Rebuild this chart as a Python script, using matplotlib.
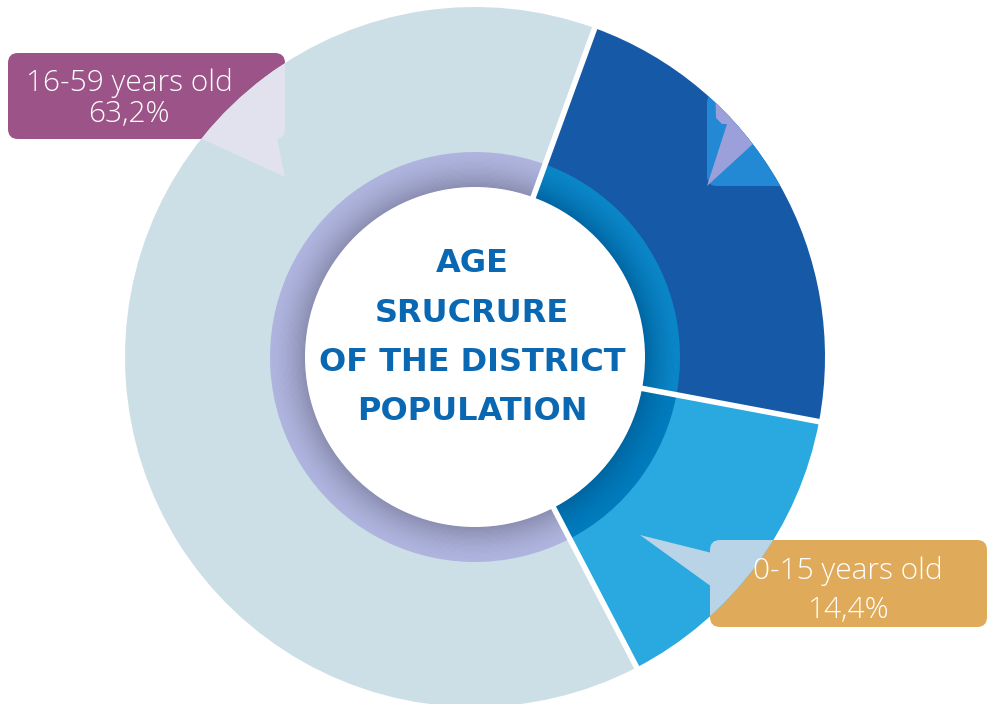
import numpy as np
import matplotlib
matplotlib.use("Agg")
import matplotlib.pyplot as plt
from matplotlib.patches import Wedge, Circle, FancyBboxPatch, Polygon
from matplotlib.colors import to_rgb

# ---- data ----
categories = ["60+ years old", "0-15 years old", "16-59 years old"]
shares = [22.4, 14.4, 63.2]
colors = ["#1559A7", "#29A9E0", "#CDDFE6"]
label_lines = {"16-59 years old": "63,2%", "0-15 years old": "14,4%"}
title_lines = ["AGE", "SRUCRURE", "OF THE DISTRICT", "POPULATION"]

W, H = 990, 704
fig = plt.figure(figsize=(W / 100, H / 100), dpi=100)
ax = fig.add_axes([0, 0, 1, 1])


def Y(y):
    return H - y


cx, cy = 475, Y(357)
R = 350
r_ring = 205
r_white = 170

# label boxes (under the pie)
box1 = FancyBboxPatch((8, Y(139)), 277, 86, boxstyle="round,pad=0,rounding_size=10",
                      fc="#9C5488", ec="none", zorder=1)
box2 = FancyBboxPatch((710, Y(627)), 277, 87, boxstyle="round,pad=0,rounding_size=10",
                      fc="#DFAB5A", ec="none", zorder=1)
ax.add_patch(box1)
ax.add_patch(box2)

wedges, _ = ax.pie(shares, colors=colors, startangle=70, counterclock=False,
                   radius=R, center=(cx, cy),
                   wedgeprops=dict(linewidth=0, zorder=2))
w60, w015, w1659 = wedges

# pale overlays of the labels inside the pie
p1 = FancyBboxPatch((8, Y(139)), 277, 86, boxstyle="round,pad=0,rounding_size=10",
                    fc="#E2E2EE", ec="none", zorder=2.5)
t1 = Polygon([(200, Y(138)), (277, Y(138)), (285, Y(177))], closed=True,
             fc="#E2E2EE", ec="none", zorder=2.5)
for p in (p1, t1):
    ax.add_patch(p)
    p.set_clip_path(w1659)

p2 = FancyBboxPatch((710, Y(627)), 277, 87, boxstyle="round,pad=0,rounding_size=10",
                    fc="#B9D3E7", ec="none", zorder=2.5)
t2 = Polygon([(640, Y(535)), (712, Y(553)), (712, Y(587))], closed=True,
             fc="#B9D3E7", ec="none", zorder=2.5)
for p in (p2, t2):
    ax.add_patch(p)
    p.set_clip_path(w015)

# hidden label of the 60+ segment
p3 = FancyBboxPatch((707, Y(186)), 200, 93, boxstyle="round,pad=0,rounding_size=10",
                    fc="#2389D4", ec="none", zorder=2.5)
t3 = Polygon([(707, Y(186)), (727, Y(124)), (722, Y(124)), (716, Y(118)), (715, Y(80)),
              (790, Y(80)), (790, Y(110))], closed=True,
             fc="#9B9FDA", ec="none", zorder=2.6)
for p in (p3, t3):
    ax.add_patch(p)
    p.set_clip_path(w60)

# inner ring with shading
ring_cols = {
    w60: ("#0A86C7", "#0067A4"),
    w015: ("#007BBC", "#0066A2"),
    w1659: ("#AEB4DE", "#8C8FB3"),
}
N = 30
radii = np.linspace(r_ring, r_white, N + 1)
for w in wedges:
    c_out, c_in = (np.array(to_rgb(c)) for c in ring_cols[w])
    for i in range(N):
        f = (i / (N - 1)) ** 1.6
        col = c_out * (1 - f) + c_in * f
        ax.add_patch(Wedge((cx, cy), radii[i], w.theta1, w.theta2,
                           width=radii[i] - radii[i + 1] + 0.6,
                           fc=col, ec="none", zorder=3))

# white separators between the segments
for w in wedges:
    a = np.deg2rad(w.theta1)
    ax.plot([cx + (r_white - 2) * np.cos(a), cx + (R + 3) * np.cos(a)],
            [cy + (r_white - 2) * np.sin(a), cy + (R + 3) * np.sin(a)],
            color="white", lw=4.0, solid_capstyle="butt", zorder=4)

ax.add_patch(Circle((cx, cy), r_white, fc="white", ec="none", zorder=5))

# center title
for i, line in enumerate(title_lines):
    ax.text(cx - 3, Y(260 + i * 49.5), line, ha="center", va="center_baseline",
            fontsize=23, fontweight="bold", color="#0A67B2",
            family="DejaVu Sans", zorder=6)

# label texts
lab_font = dict(ha="center", va="center_baseline", color="white", fontsize=21.5,
                family="Open Sans", fontweight="light", zorder=7)
ax.text(129, Y(79), "16-59 years old", **lab_font)
ax.text(129, Y(111), label_lines["16-59 years old"], **lab_font)
ax.text(848, Y(568), "0-15 years old", **lab_font)
ax.text(848, Y(607), label_lines["0-15 years old"], **lab_font)

ax.set_xlim(0, W)
ax.set_ylim(0, H)
ax.set_aspect("equal")
ax.axis("off")
fig.savefig("out.png", dpi=100)
